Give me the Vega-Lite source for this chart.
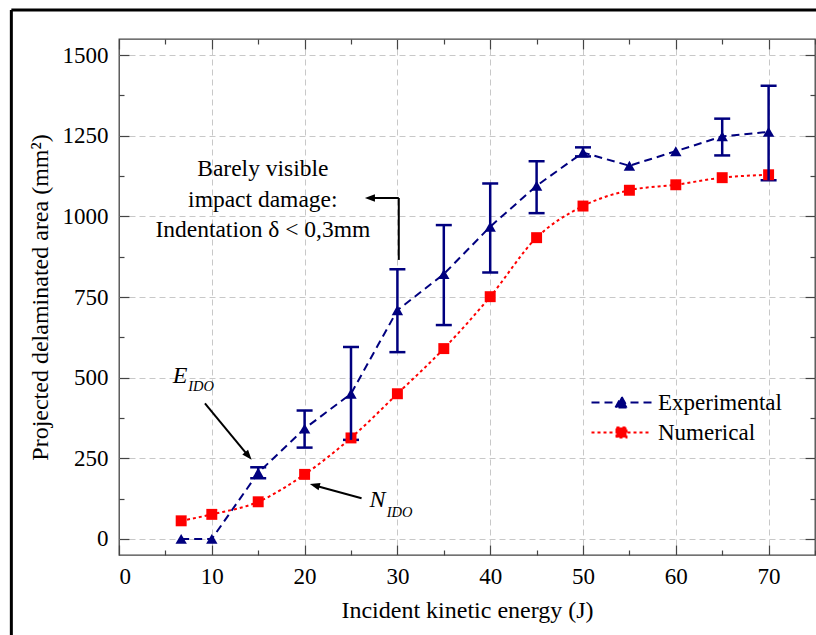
{
  "$schema": "https://vega.github.io/schema/vega-lite/v6.json",
  "width": 696,
  "height": 516,
  "autosize": {"type": "none"},
  "padding": {"left": 119, "top": 39, "right": 1, "bottom": 80},
  "background": "white",
  "config": {
    "view": {"stroke": "#444444", "strokeWidth": 1.3},
    "font": "Liberation Serif"
  },
  "datasets": {
    "series": [
      {"series": "Experimental", "E": 6.7, "area": 0},
      {"series": "Experimental", "E": 10, "area": 0},
      {"series": "Experimental", "E": 15, "area": 205},
      {"series": "Experimental", "E": 20, "area": 342},
      {"series": "Experimental", "E": 25, "area": 450},
      {"series": "Experimental", "E": 30, "area": 709},
      {"series": "Experimental", "E": 35, "area": 821},
      {"series": "Experimental", "E": 40, "area": 968},
      {"series": "Experimental", "E": 45, "area": 1095},
      {"series": "Experimental", "E": 50, "area": 1198},
      {"series": "Experimental", "E": 55, "area": 1157},
      {"series": "Experimental", "E": 60, "area": 1202},
      {"series": "Experimental", "E": 65, "area": 1248},
      {"series": "Experimental", "E": 70, "area": 1262},
      {"series": "Numerical", "E": 6.7, "area": 56},
      {"series": "Numerical", "E": 10, "area": 76},
      {"series": "Numerical", "E": 15, "area": 115},
      {"series": "Numerical", "E": 20, "area": 200},
      {"series": "Numerical", "E": 25, "area": 313},
      {"series": "Numerical", "E": 30, "area": 450},
      {"series": "Numerical", "E": 35, "area": 590},
      {"series": "Numerical", "E": 40, "area": 751},
      {"series": "Numerical", "E": 45, "area": 934},
      {"series": "Numerical", "E": 50, "area": 1032},
      {"series": "Numerical", "E": 55, "area": 1081},
      {"series": "Numerical", "E": 60, "area": 1098},
      {"series": "Numerical", "E": 65, "area": 1120},
      {"series": "Numerical", "E": 70, "area": 1129}
    ],
    "err": [
      {"E": 15, "lo": 188, "hi": 222},
      {"E": 20, "lo": 283, "hi": 398},
      {"E": 25, "lo": 307, "hi": 595},
      {"E": 30, "lo": 579, "hi": 836},
      {"E": 35, "lo": 663, "hi": 973},
      {"E": 40, "lo": 826, "hi": 1102},
      {"E": 45, "lo": 1010, "hi": 1171},
      {"E": 50, "lo": 1186, "hi": 1214},
      {"E": 65, "lo": 1189, "hi": 1303},
      {"E": 70, "lo": 1112, "hi": 1405}
    ],
    "notes": [
      {"text": "Barely visible", "E": 15.5, "area": 1125},
      {"text": "impact damage:", "E": 15.5, "area": 1029},
      {"text": "Indentation δ < 0,3mm", "E": 15.5, "area": 936}
    ],
    "letters": [
      {"text": "E", "E": 5.8, "area": 483},
      {"text": "N", "E": 27.0, "area": 99}
    ],
    "subs": [
      {"text": "IDO", "E": 7.45, "area": 459},
      {"text": "IDO", "E": 28.85, "area": 68}
    ],
    "arrows": [
      {"x1": 30.15, "y1": 865, "x2": 30.15, "y2": 1057},
      {"x1": 30.15, "y1": 1057, "x2": 27.0, "y2": 1057},
      {"x1": 9.26, "y1": 420, "x2": 14.0, "y2": 255},
      {"x1": 26.14, "y1": 126, "x2": 21.0, "y2": 166}
    ],
    "heads": [
      {"which": "bvid", "E": 26.5, "area": 1057},
      {"which": "eido", "E": 14.29, "area": 245},
      {"which": "nido", "E": 20.57, "area": 170}
    ],
    "one": [{"frame": "outer"}]
  },
  "resolve": {"axis": {"x": "independent", "y": "independent"}},
  "layer": [
    {
      "data": {"name": "err"},
      "mark": {"type": "tick", "orient": "horizontal", "color": "#00007f", "size": 16, "thickness": 2.5, "opacity": 1},
      "encoding": {
        "x": {"field": "E", "type": "quantitative", "scale": {"domain": [0, 75], "nice": false, "zero": false},
          "axis": {"orient": "bottom", "values": [10, 20, 30, 40, 50, 60, 70], "labels": false, "ticks": false, "title": null, "domain": false,
                   "grid": true, "gridColor": "#c8c8c8", "gridDash": [6, 4], "gridWidth": 1}},
        "y": {"field": "lo", "type": "quantitative", "scale": {"domain": [-50, 1550], "nice": false, "zero": false},
          "axis": {"orient": "left", "values": [0, 250, 500, 750, 1000, 1250, 1500], "labels": false, "ticks": false, "title": null, "domain": false,
                   "grid": true, "gridColor": "#c8c8c8", "gridDash": [6, 4], "gridWidth": 1}}
      }
    },
    {
      "data": {"name": "series"},
      "transform": [{"filter": "datum.series === 'Experimental'"}],
      "mark": {"type": "line", "interpolate": "linear", "strokeWidth": 2},
      "encoding": {
        "x": {
          "field": "E", "type": "quantitative",
          "scale": {"domain": [0, 75], "nice": false, "zero": false},
          "axis": {
            "orient": "bottom", "values": [0, 10, 20, 30, 40, 50, 60, 70], "format": "d",
            "title": "Incident kinetic energy (J)",
            "titleFont": "Liberation Serif", "titleFontSize": 24, "titleFontWeight": "normal", "titleColor": "black",
            "titlePadding": 10,
            "labelFont": "Liberation Serif", "labelFontSize": 23, "labelColor": "black", "labelPadding": 10,
            "offset": -10, "tickSize": 10, "tickColor": "#444444", "tickWidth": 1.2,
            "domain": false, "grid": false
          }
        },
        "y": {
          "field": "area", "type": "quantitative",
          "scale": {"domain": [-50, 1550], "nice": false, "zero": false},
          "axis": {
            "orient": "left", "values": [0, 250, 500, 750, 1000, 1250, 1500], "format": "d",
            "title": "Projected delaminated area (mm²)",
            "titleFont": "Liberation Serif", "titleFontSize": 24, "titleFontWeight": "normal", "titleColor": "black",
            "titlePadding": 10,
            "labelFont": "Liberation Serif", "labelFontSize": 23, "labelColor": "black", "labelPadding": 11,
            "offset": -10, "tickSize": 10, "tickColor": "#444444", "tickWidth": 1.2,
            "domain": false, "grid": false
          }
        },
        "color": {
          "field": "series", "type": "nominal",
          "scale": {"domain": ["Experimental", "Numerical"], "range": ["#00007f", "#ff0000"]},
          "legend": {
            "title": null, "orient": "none", "legendX": 491, "legendY": 352,
            "padding": 0,
            "symbolType": "M-3,0H3", "symbolSize": 400, "symbolStrokeWidth": 2,
            "labelFont": "Liberation Serif", "labelFontSize": 23, "labelColor": "black",
            "labelOffset": 25, "rowPadding": 6,
            "encode": {
              "symbols": {
                "update": {
                  "shape": {"signal": "datum.value === 'Experimental' ? 'M-3,0H3M-0.6,0.5L0,-0.6L0.6,0.5Z' : 'M-3,0H3M-0.5,-0.5H0.5V0.5H-0.5Z'"},
                  "fill": {"signal": "scale('color', datum.value)"},
                  "stroke": {"signal": "scale('color', datum.value)"},
                  "strokeDash": {"signal": "scale('strokeDash', datum.value)"},
                  "opacity": {"value": 1}
                }
              }
            }
          }
        },
        "strokeDash": {
          "field": "series", "type": "nominal",
          "scale": {"domain": ["Experimental", "Numerical"], "range": [[8, 5], [3, 3]]},
          "legend": null
        }
      }
    },
    {
      "data": {"name": "series"},
      "transform": [{"filter": "datum.series === 'Numerical'"}],
      "mark": {"type": "line", "interpolate": "monotone", "strokeWidth": 2},
      "encoding": {
        "x": {"field": "E", "type": "quantitative", "scale": {"domain": [0, 75], "nice": false, "zero": false}, "axis": null},
        "y": {"field": "area", "type": "quantitative", "scale": {"domain": [-50, 1550], "nice": false, "zero": false}, "axis": null},
        "color": {"field": "series", "type": "nominal", "scale": {"domain": ["Experimental", "Numerical"], "range": ["#00007f", "#ff0000"]}},
        "strokeDash": {"field": "series", "type": "nominal", "scale": {"domain": ["Experimental", "Numerical"], "range": [[8, 5], [3, 3]]}, "legend": null}
      }
    },
    {
      "data": {"name": "series"},
      "transform": [{"filter": "datum.series === 'Experimental'"}],
      "mark": {"type": "point", "shape": "triangle-up", "filled": true, "size": 130, "color": "#00007f", "opacity": 1},
      "encoding": {
        "x": {
          "field": "E", "type": "quantitative",
          "scale": {"domain": [0, 75], "nice": false, "zero": false},
          "axis": {"orient": "top", "values": [0, 10, 20, 30, 40, 50, 60, 70], "labels": false, "title": null,
                   "offset": -10, "tickSize": 10, "tickColor": "#444444", "tickWidth": 1.2, "domain": false, "grid": false}
        },
        "y": {
          "field": "area", "type": "quantitative",
          "scale": {"domain": [-50, 1550], "nice": false, "zero": false},
          "axis": {"orient": "right", "values": [0, 250, 500, 750, 1000, 1250, 1500], "labels": false, "title": null,
                   "offset": -10, "tickSize": 10, "tickColor": "#444444", "tickWidth": 1.2, "domain": false, "grid": false}
        }
      }
    },
    {
      "data": {"name": "series"},
      "transform": [{"filter": "datum.series === 'Numerical'"}],
      "mark": {"type": "point", "shape": "square", "filled": true, "size": 120, "color": "#ff0000", "opacity": 1},
      "encoding": {
        "x": {
          "field": "E", "type": "quantitative",
          "scale": {"domain": [0, 75], "nice": false, "zero": false},
          "axis": {"orient": "bottom", "values": [5, 15, 25, 35, 45, 55, 65, 75], "labels": false, "title": null,
                   "offset": -5, "tickSize": 5, "tickColor": "#444444", "tickWidth": 1.2, "domain": false, "grid": false}
        },
        "y": {
          "field": "area", "type": "quantitative",
          "scale": {"domain": [-50, 1550], "nice": false, "zero": false},
          "axis": {"orient": "left", "values": [125, 375, 625, 875, 1125, 1375], "labels": false, "title": null,
                   "offset": -5, "tickSize": 5, "tickColor": "#444444", "tickWidth": 1.2, "domain": false, "grid": false}
        }
      }
    },
    {
      "data": {"name": "err"},
      "mark": {"type": "rule", "color": "#00007f", "strokeWidth": 2.5},
      "encoding": {
        "x": {
          "field": "E", "type": "quantitative",
          "scale": {"domain": [0, 75], "nice": false, "zero": false},
          "axis": {"orient": "top", "values": [5, 15, 25, 35, 45, 55, 65, 75], "labels": false, "title": null,
                   "offset": -5, "tickSize": 5, "tickColor": "#444444", "tickWidth": 1.2, "domain": false, "grid": false}
        },
        "y": {
          "field": "lo", "type": "quantitative",
          "scale": {"domain": [-50, 1550], "nice": false, "zero": false},
          "axis": {"orient": "right", "values": [125, 375, 625, 875, 1125, 1375], "labels": false, "title": null,
                   "offset": -5, "tickSize": 5, "tickColor": "#444444", "tickWidth": 1.2, "domain": false, "grid": false}
        },
        "y2": {"field": "hi"}
      }
    },
    {
      "data": {"name": "err"},
      "mark": {"type": "tick", "orient": "horizontal", "color": "#00007f", "size": 16, "thickness": 2.5, "opacity": 1},
      "encoding": {
        "x": {"field": "E", "type": "quantitative", "scale": {"domain": [0, 75], "nice": false, "zero": false}, "axis": null},
        "y": {"field": "hi", "type": "quantitative", "scale": {"domain": [-50, 1550], "nice": false, "zero": false}, "axis": null}
      }
    },
    {
      "data": {"name": "arrows"},
      "mark": {"type": "rule", "color": "black", "strokeWidth": 2},
      "encoding": {
        "x": {"field": "x1", "type": "quantitative", "scale": {"domain": [0, 75], "nice": false, "zero": false}, "axis": null},
        "y": {"field": "y1", "type": "quantitative", "scale": {"domain": [-50, 1550], "nice": false, "zero": false}, "axis": null},
        "x2": {"field": "x2"},
        "y2": {"field": "y2"}
      }
    },
    {
      "data": {"name": "heads"},
      "transform": [{"filter": "datum.which === 'bvid'"}],
      "mark": {"type": "point", "shape": "M0,0L2,-0.75L2,0.75Z", "filled": true, "size": 100, "color": "black", "opacity": 1},
      "encoding": {
        "x": {"field": "E", "type": "quantitative", "scale": {"domain": [0, 75], "nice": false, "zero": false}, "axis": null},
        "y": {"field": "area", "type": "quantitative", "scale": {"domain": [-50, 1550], "nice": false, "zero": false}, "axis": null}
      }
    },
    {
      "data": {"name": "heads"},
      "transform": [{"filter": "datum.which === 'eido'"}],
      "mark": {"type": "point", "shape": "M0,0L-0.75,2L0.75,2Z", "angle": 140, "filled": true, "size": 100, "color": "black", "opacity": 1},
      "encoding": {
        "x": {"field": "E", "type": "quantitative", "scale": {"domain": [0, 75], "nice": false, "zero": false}, "axis": null},
        "y": {"field": "area", "type": "quantitative", "scale": {"domain": [-50, 1550], "nice": false, "zero": false}, "axis": null}
      }
    },
    {
      "data": {"name": "heads"},
      "transform": [{"filter": "datum.which === 'nido'"}],
      "mark": {"type": "point", "shape": "M0,0L-0.75,2L0.75,2Z", "angle": 285, "filled": true, "size": 100, "color": "black", "opacity": 1},
      "encoding": {
        "x": {"field": "E", "type": "quantitative", "scale": {"domain": [0, 75], "nice": false, "zero": false}, "axis": null},
        "y": {"field": "area", "type": "quantitative", "scale": {"domain": [-50, 1550], "nice": false, "zero": false}, "axis": null}
      }
    },
    {
      "data": {"name": "notes"},
      "mark": {"type": "text", "font": "Liberation Serif", "fontSize": 23.5, "color": "black", "align": "center", "baseline": "alphabetic"},
      "encoding": {
        "x": {"field": "E", "type": "quantitative", "scale": {"domain": [0, 75], "nice": false, "zero": false}, "axis": null},
        "y": {"field": "area", "type": "quantitative", "scale": {"domain": [-50, 1550], "nice": false, "zero": false}, "axis": null},
        "text": {"field": "text"}
      }
    },
    {
      "data": {"name": "letters"},
      "mark": {"type": "text", "font": "Liberation Serif", "fontSize": 24, "fontStyle": "italic", "color": "black", "align": "left", "baseline": "alphabetic"},
      "encoding": {
        "x": {"field": "E", "type": "quantitative", "scale": {"domain": [0, 75], "nice": false, "zero": false}, "axis": null},
        "y": {"field": "area", "type": "quantitative", "scale": {"domain": [-50, 1550], "nice": false, "zero": false}, "axis": null},
        "text": {"field": "text"}
      }
    },
    {
      "data": {"name": "subs"},
      "mark": {"type": "text", "font": "Liberation Serif", "fontSize": 14.5, "fontStyle": "italic", "color": "black", "align": "left", "baseline": "alphabetic"},
      "encoding": {
        "x": {"field": "E", "type": "quantitative", "scale": {"domain": [0, 75], "nice": false, "zero": false}, "axis": null},
        "y": {"field": "area", "type": "quantitative", "scale": {"domain": [-50, 1550], "nice": false, "zero": false}, "axis": null},
        "text": {"field": "text"}
      }
    },
    {
      "data": {"name": "one"},
      "mark": {"type": "rule", "color": "black", "strokeWidth": 3, "clip": false},
      "encoding": {
        "x": {"datum": -11.6, "type": "quantitative", "scale": {"domain": [0, 75], "nice": false, "zero": false}, "axis": null},
        "y": {"datum": 1640, "type": "quantitative", "scale": {"domain": [-50, 1550], "nice": false, "zero": false}, "axis": null},
        "y2": {"datum": -400}
      }
    },
    {
      "data": {"name": "one"},
      "mark": {"type": "rule", "color": "black", "strokeWidth": 3, "clip": false},
      "encoding": {
        "x": {"datum": -11.6, "type": "quantitative", "scale": {"domain": [0, 75], "nice": false, "zero": false}, "axis": null},
        "x2": {"datum": 90},
        "y": {"datum": 1640, "type": "quantitative", "scale": {"domain": [-50, 1550], "nice": false, "zero": false}, "axis": null}
      }
    }
  ]
}
